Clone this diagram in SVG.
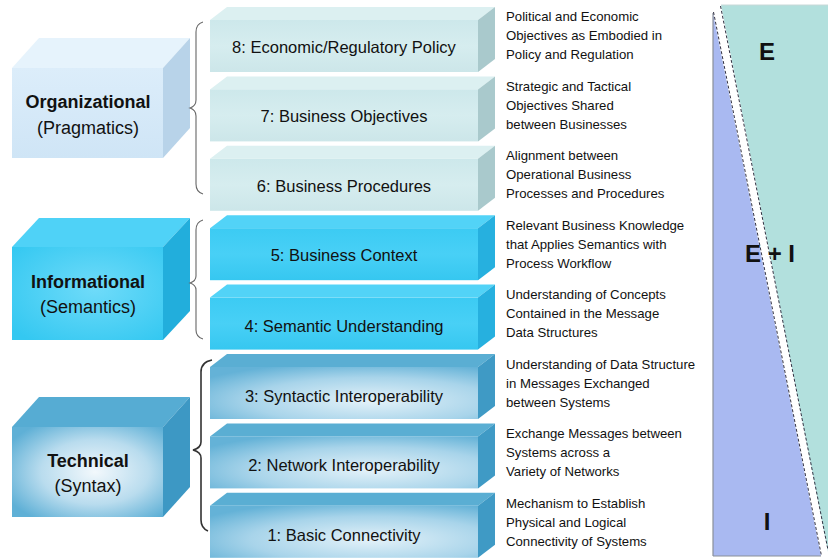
<svg xmlns="http://www.w3.org/2000/svg" width="828" height="560" viewBox="0 0 828 560">
  <defs>
    <linearGradient id="orgFront" x1="0" y1="0" x2="0" y2="1">
      <stop offset="0" stop-color="#dcedfa"/>
      <stop offset="1" stop-color="#cfe5f6"/>
    </linearGradient>
    <radialGradient id="infoFront" cx="0.55" cy="0.45" r="0.7">
      <stop offset="0" stop-color="#6fdbf9"/>
      <stop offset="1" stop-color="#34c8f1"/>
    </radialGradient>
    <radialGradient id="techFront" cx="0.55" cy="0.5" r="0.65">
      <stop offset="0" stop-color="#f2f8fc"/>
      <stop offset="0.55" stop-color="#b9dcee"/>
      <stop offset="1" stop-color="#5fb0d6"/>
    </radialGradient>
    <linearGradient id="paleFront" x1="0" y1="0" x2="0" y2="1">
      <stop offset="0" stop-color="#cde8eb"/>
      <stop offset="0.5" stop-color="#d6edef"/>
      <stop offset="1" stop-color="#cce6e9"/>
    </linearGradient>
    <linearGradient id="cyanFront" x1="0" y1="0" x2="0" y2="1">
      <stop offset="0" stop-color="#3ccbf3"/>
      <stop offset="0.5" stop-color="#48d0f6"/>
      <stop offset="1" stop-color="#36c7f0"/>
    </linearGradient>
    <radialGradient id="blueFront" cx="0.6" cy="0.65" r="0.75">
      <stop offset="0" stop-color="#e4f2f9"/>
      <stop offset="0.6" stop-color="#a8d4ea"/>
      <stop offset="1" stop-color="#64b2d7"/>
    </radialGradient>
    <style>
      .lbl { font-family: "Liberation Sans", Arial, sans-serif; font-size: 16.5px; fill: #111; text-anchor: middle; }
      .cat { font-family: "Liberation Sans", Arial, sans-serif; font-size: 18px; fill: #111; text-anchor: middle; }
      .catb { font-weight: bold; }
      .desc { font-family: "Liberation Sans", Arial, sans-serif; font-size: 13.2px; fill: #111; }
      .big { font-family: "Liberation Sans", Arial, sans-serif; font-size: 24px; font-weight: bold; fill: #111; text-anchor: middle; }
      .brace { fill: none; stroke: #666; stroke-width: 1.1; }
      .brace-dark { fill: none; stroke: #333; stroke-width: 1.6; }
      .pale .front { fill: url(#paleFront); }
      .pale .top { fill: #dcf0f1; }
      .pale .side { fill: #a9c9cc; }
      .cyan .front { fill: url(#cyanFront); }
      .cyan .top { fill: #52d3f7; }
      .cyan .side { fill: #26b0df; }
      .blue .front { fill: url(#blueFront); }
      .blue .top { fill: #5aaed3; }
      .blue .side { fill: #3f9ac5; }
    </style>
  </defs>

  <rect width="828" height="560" fill="#ffffff"/>

  <!-- category blocks -->
  <g id="organizational">
    <polygon points="12,68 163,68 190,38 39,38" fill="#e6f3fc"/>
    <polygon points="163,68 190,38 190,128 163,158" fill="#b8d3e9"/>
    <rect x="12" y="68" width="151" height="90" fill="url(#orgFront)"/>
    <text class="cat catb" x="88" y="108">Organizational</text>
    <text class="cat" x="88" y="134">(Pragmatics)</text>
  </g>
  <g id="informational">
    <polygon points="12,247 163,247 190,218 39,218" fill="#4fd2f7"/>
    <polygon points="163,247 190,218 190,311 163,340" fill="#22aedc"/>
    <rect x="12" y="247" width="151" height="93" fill="url(#infoFront)"/>
    <text class="cat catb" x="88" y="288">Informational</text>
    <text class="cat" x="88" y="313">(Semantics)</text>
  </g>
  <g id="technical">
    <polygon points="12,427 163,427 190,397 39,397" fill="#56acd3"/>
    <polygon points="163,427 190,397 190,487 163,517" fill="#3d98c4"/>
    <rect x="12" y="427" width="151" height="90" fill="url(#techFront)"/>
    <text class="cat catb" x="88" y="467">Technical</text>
    <text class="cat" x="88" y="492">(Syntax)</text>
  </g>

  <!-- braces linking categories to layers -->
  <g id="connectors">
    <path class="brace" d="M203,22 Q196,24 196,32 L196,100 Q196,106 190,108 Q196,110 196,116 L196,184 Q196,192 203,194"/>
    <path class="brace" d="M203,220 Q196,222 196,230 L196,276 Q196,281 190,283 Q196,285 196,290 L196,330 Q196,337 203,339"/>
    <path class="brace-dark" d="M212,360 Q201,362 201,372 L201,442 Q201,448 193,450 Q201,452 201,458 L201,520 Q201,528 208,531"/>
  </g>

  <!-- interoperability layers -->
  <g id="layer8" class="pale" transform="translate(0,7)">
    <polygon class="top" points="210,13 478,13 495,0 227,0"/>
    <polygon class="side" points="478,13 495,0 495,52 478,65"/>
    <rect class="front" x="210" y="13" width="268" height="52"/>
    <text class="lbl" x="344" y="46">8: Economic/Regulatory Policy</text>
  </g>
  <g id="layer7" class="pale" transform="translate(0,76.4)">
    <polygon class="top" points="210,13 478,13 495,0 227,0"/>
    <polygon class="side" points="478,13 495,0 495,52 478,65"/>
    <rect class="front" x="210" y="13" width="268" height="52"/>
    <text class="lbl" x="344" y="46">7: Business Objectives</text>
  </g>
  <g id="layer6" class="pale" transform="translate(0,145.8)">
    <polygon class="top" points="210,13 478,13 495,0 227,0"/>
    <polygon class="side" points="478,13 495,0 495,52 478,65"/>
    <rect class="front" x="210" y="13" width="268" height="52"/>
    <text class="lbl" x="344" y="46">6: Business Procedures</text>
  </g>
  <g id="layer5" class="cyan" transform="translate(0,215.2)">
    <polygon class="top" points="210,13 478,13 495,0 227,0"/>
    <polygon class="side" points="478,13 495,0 495,52 478,65"/>
    <rect class="front" x="210" y="13" width="268" height="52"/>
    <text class="lbl" x="344" y="46">5: Business Context</text>
  </g>
  <g id="layer4" class="cyan" transform="translate(0,284.6)">
    <polygon class="top" points="210,13 478,13 495,0 227,0"/>
    <polygon class="side" points="478,13 495,0 495,52 478,65"/>
    <rect class="front" x="210" y="13" width="268" height="52"/>
    <text class="lbl" x="344" y="47">4: Semantic Understanding</text>
  </g>
  <g id="layer3" class="blue" transform="translate(0,354)">
    <polygon class="top" points="210,13 478,13 495,0 227,0"/>
    <polygon class="side" points="478,13 495,0 495,52 478,65"/>
    <rect class="front" x="210" y="13" width="268" height="52"/>
    <text class="lbl" x="344" y="48">3: Syntactic Interoperability</text>
  </g>
  <g id="layer2" class="blue" transform="translate(0,423.4)">
    <polygon class="top" points="210,13 478,13 495,0 227,0"/>
    <polygon class="side" points="478,13 495,0 495,52 478,65"/>
    <rect class="front" x="210" y="13" width="268" height="52"/>
    <text class="lbl" x="344" y="48">2: Network Interoperability</text>
  </g>
  <g id="layer1" class="blue" transform="translate(0,492.8)">
    <polygon class="top" points="210,13 478,13 495,0 227,0"/>
    <polygon class="side" points="478,13 495,0 495,52 478,65"/>
    <rect class="front" x="210" y="13" width="268" height="52"/>
    <text class="lbl" x="344" y="48">1: Basic Connectivity</text>
  </g>

  <!-- layer descriptions -->
  <g id="descriptions">
    <text class="desc" x="506" y="21"><tspan x="506">Political and Economic</tspan><tspan x="506" dy="19">Objectives as Embodied in</tspan><tspan x="506" dy="19">Policy and Regulation</tspan></text>
    <text class="desc" x="506" y="91"><tspan x="506">Strategic and Tactical</tspan><tspan x="506" dy="19">Objectives Shared</tspan><tspan x="506" dy="19">between Businesses</tspan></text>
    <text class="desc" x="506" y="160"><tspan x="506">Alignment between</tspan><tspan x="506" dy="19">Operational Business</tspan><tspan x="506" dy="19">Processes and Procedures</tspan></text>
    <text class="desc" x="506" y="230"><tspan x="506">Relevant Business Knowledge</tspan><tspan x="506" dy="19">that Applies Semantics with</tspan><tspan x="506" dy="19">Process Workflow</tspan></text>
    <text class="desc" x="506" y="299"><tspan x="506">Understanding of Concepts</tspan><tspan x="506" dy="19">Contained in the Message</tspan><tspan x="506" dy="19">Data Structures</tspan></text>
    <text class="desc" x="506" y="369"><tspan x="506">Understanding of Data Structure</tspan><tspan x="506" dy="19">in Messages Exchanged</tspan><tspan x="506" dy="19">between Systems</tspan></text>
    <text class="desc" x="506" y="438"><tspan x="506">Exchange Messages between</tspan><tspan x="506" dy="19">Systems across a</tspan><tspan x="506" dy="19">Variety of Networks</tspan></text>
    <text class="desc" x="506" y="508"><tspan x="506">Mechanism to Establish</tspan><tspan x="506" dy="19">Physical and Logical</tspan><tspan x="506" dy="19">Connectivity of Systems</tspan></text>
  </g>

  <!-- E / I split panel -->
  <g id="panel">
    <polygon points="721,5 828,5 828,552" fill="#b2e0dd"/>
    <polygon points="713,13 713,556 821,556" fill="#a9b9f1"/>
    <line x1="713" y1="13" x2="713" y2="556" stroke="#8a8f9a" stroke-width="1.2"/>
    <line x1="713" y1="556" x2="821" y2="556" stroke="#8a8f9a" stroke-width="1.2"/>
    <line x1="721" y1="5" x2="828" y2="5" stroke="#c8d8d8" stroke-width="1"/>
    <line x1="717" y1="9" x2="825" y2="556" stroke="#ffffff" stroke-width="6"/>
    <line x1="713.5" y1="12" x2="821.5" y2="556" stroke="#334" stroke-width="1" stroke-dasharray="3,2"/>
    <line x1="720.5" y1="6" x2="828" y2="550" stroke="#334" stroke-width="1" stroke-dasharray="3,2"/>
    <text class="big" x="767" y="60">E</text>
    <text class="big" x="770" y="262">E + I</text>
    <text class="big" x="767" y="530">I</text>
  </g>
</svg>
